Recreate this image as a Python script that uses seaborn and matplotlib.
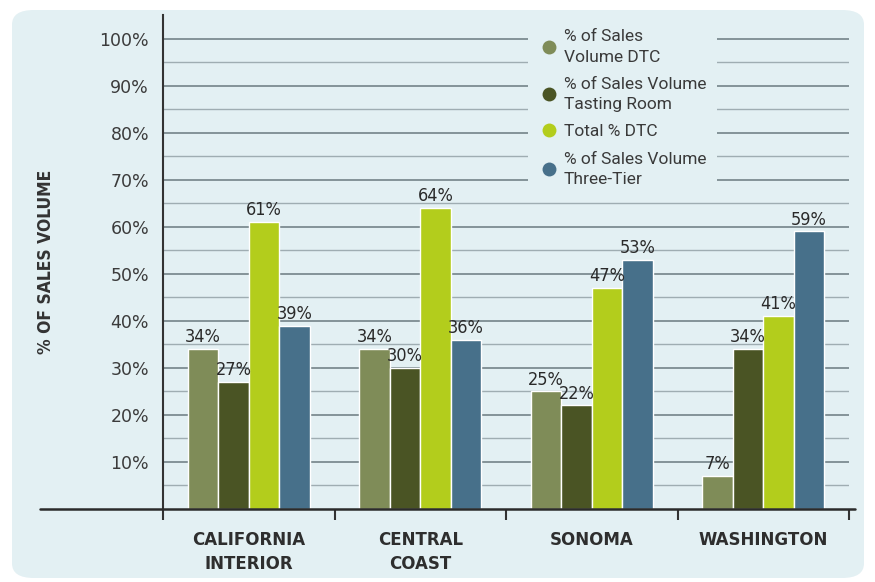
import matplotlib
matplotlib.use("Agg")
import matplotlib.pyplot as plt
from matplotlib.patches import FancyBboxPatch
from matplotlib.lines import Line2D
from matplotlib.ticker import FixedLocator
import seaborn as sns
import pandas as pd

regions = ["CALIFORNIA\nINTERIOR", "CENTRAL\nCOAST", "SONOMA", "WASHINGTON"]
series = ["% of Sales\nVolume DTC", "% of Sales Volume\nTasting Room",
          "Total % DTC", "% of Sales Volume\nThree-Tier"]
dtc = [34, 34, 25, 7]
tasting = [27, 30, 22, 34]
total_dtc = [61, 64, 47, 41]
three_tier = [39, 36, 53, 59]
colors = ["#7f8c58", "#4a5424", "#b3cd1c", "#47708a"]

rows = []
for s, vals in zip(series, [dtc, tasting, total_dtc, three_tier]):
    for r, v in zip(regions, vals):
        rows.append({"region": r, "series": s, "value": v})
df = pd.DataFrame(rows)

sns.set_theme(style="white")
plt.rcParams["font.family"] = ["Roboto", "DejaVu Sans"]

panel = "#e3f0f3"
fig = plt.figure(figsize=(8.75, 5.82), dpi=100)
fig.patch.set_facecolor("white")
fig.patches.append(FancyBboxPatch((12 / 875, 4 / 582), 852 / 875, 568 / 582,
                                  boxstyle="round,pad=0,rounding_size=0.025",
                                  transform=fig.transFigure, facecolor=panel,
                                  edgecolor="none", zorder=-10))

ax = fig.add_axes([163 / 875, 1 - 509 / 582, 686 / 875, 494 / 582])
ax.set_facecolor("none")

sns.barplot(data=df, x="region", y="value", hue="series", order=regions,
            hue_order=series, palette=colors, width=0.71, gap=0,
            saturation=1, ax=ax, legend=True, zorder=3)

ax.set_ylim(0, 105)
ax.set_xlim(-0.5, 3.5)
ax.yaxis.set_major_locator(FixedLocator(list(range(10, 101, 10))))
ax.yaxis.set_minor_locator(FixedLocator(list(range(5, 101, 10))))
ax.set_yticklabels([f"{v}%" for v in range(10, 101, 10)])
ax.grid(axis="y", which="major", color="#7d8c91", linewidth=1.3, zorder=0)
ax.grid(axis="y", which="minor", color="#9fadb2", linewidth=1.0, zorder=0)
ax.tick_params(axis="y", which="both", length=0, pad=10, labelsize=12.5,
               labelcolor="#3b3b3b")
for t in ax.get_yticklabels():
    t.set_family("DejaVu Sans")

ax.set_xticks([-0.5, 0.5, 1.5, 2.5, 3.5])
ax.set_xticklabels([])
ax.set_xticks([0, 1, 2, 3], minor=True)
ax.set_xticklabels(regions, minor=True, fontweight="bold", fontsize=12,
                   color="#2e2e2e", linespacing=1.4, family="DejaVu Sans")
ax.tick_params(axis="x", which="major", direction="out", length=8, width=1.5,
               color="#333333", bottom=True)
ax.tick_params(axis="x", which="minor", length=0, pad=16)

ax.set_xlabel("")
ax.set_ylabel("% OF SALES VOLUME", fontsize=12.5, fontweight="bold",
              color="#333333", labelpad=32, family="DejaVu Sans",
              fontstretch="condensed")

for s in ["top", "right", "bottom"]:
    ax.spines[s].set_visible(False)
ax.spines["left"].set_color("#333333")
ax.spines["left"].set_linewidth(1.5)

fig.lines.append(Line2D([40 / 875, 855 / 875], [1 - 509 / 582] * 2,
                        transform=fig.transFigure, color="#2b2b2b",
                        linewidth=1.8, zorder=5))

for cont in ax.containers:
    ax.bar_label(cont, fmt="{:.0f}%", padding=2, fontsize=13, color="#2a2a2a",
                 family="DejaVu Sans", fontstretch="condensed")

handles = [Line2D([0], [0], marker="o", linestyle="none", markersize=10,
                  markerfacecolor=c, markeredgecolor="none") for c in colors]
leg = ax.legend(handles, series, loc="upper left",
                bbox_to_anchor=(0.52, 1.01), frameon=True, facecolor=panel,
                edgecolor="none", framealpha=1, fontsize=12.5,
                labelspacing=0.7, handletextpad=0.25, borderpad=0.6,
                handlelength=1.2)
for t in leg.get_texts():
    t.set_color("#3a3a3a")
    t.set_linespacing(1.45)
leg.set_zorder(6)

fig.savefig("out.png", dpi=100)
